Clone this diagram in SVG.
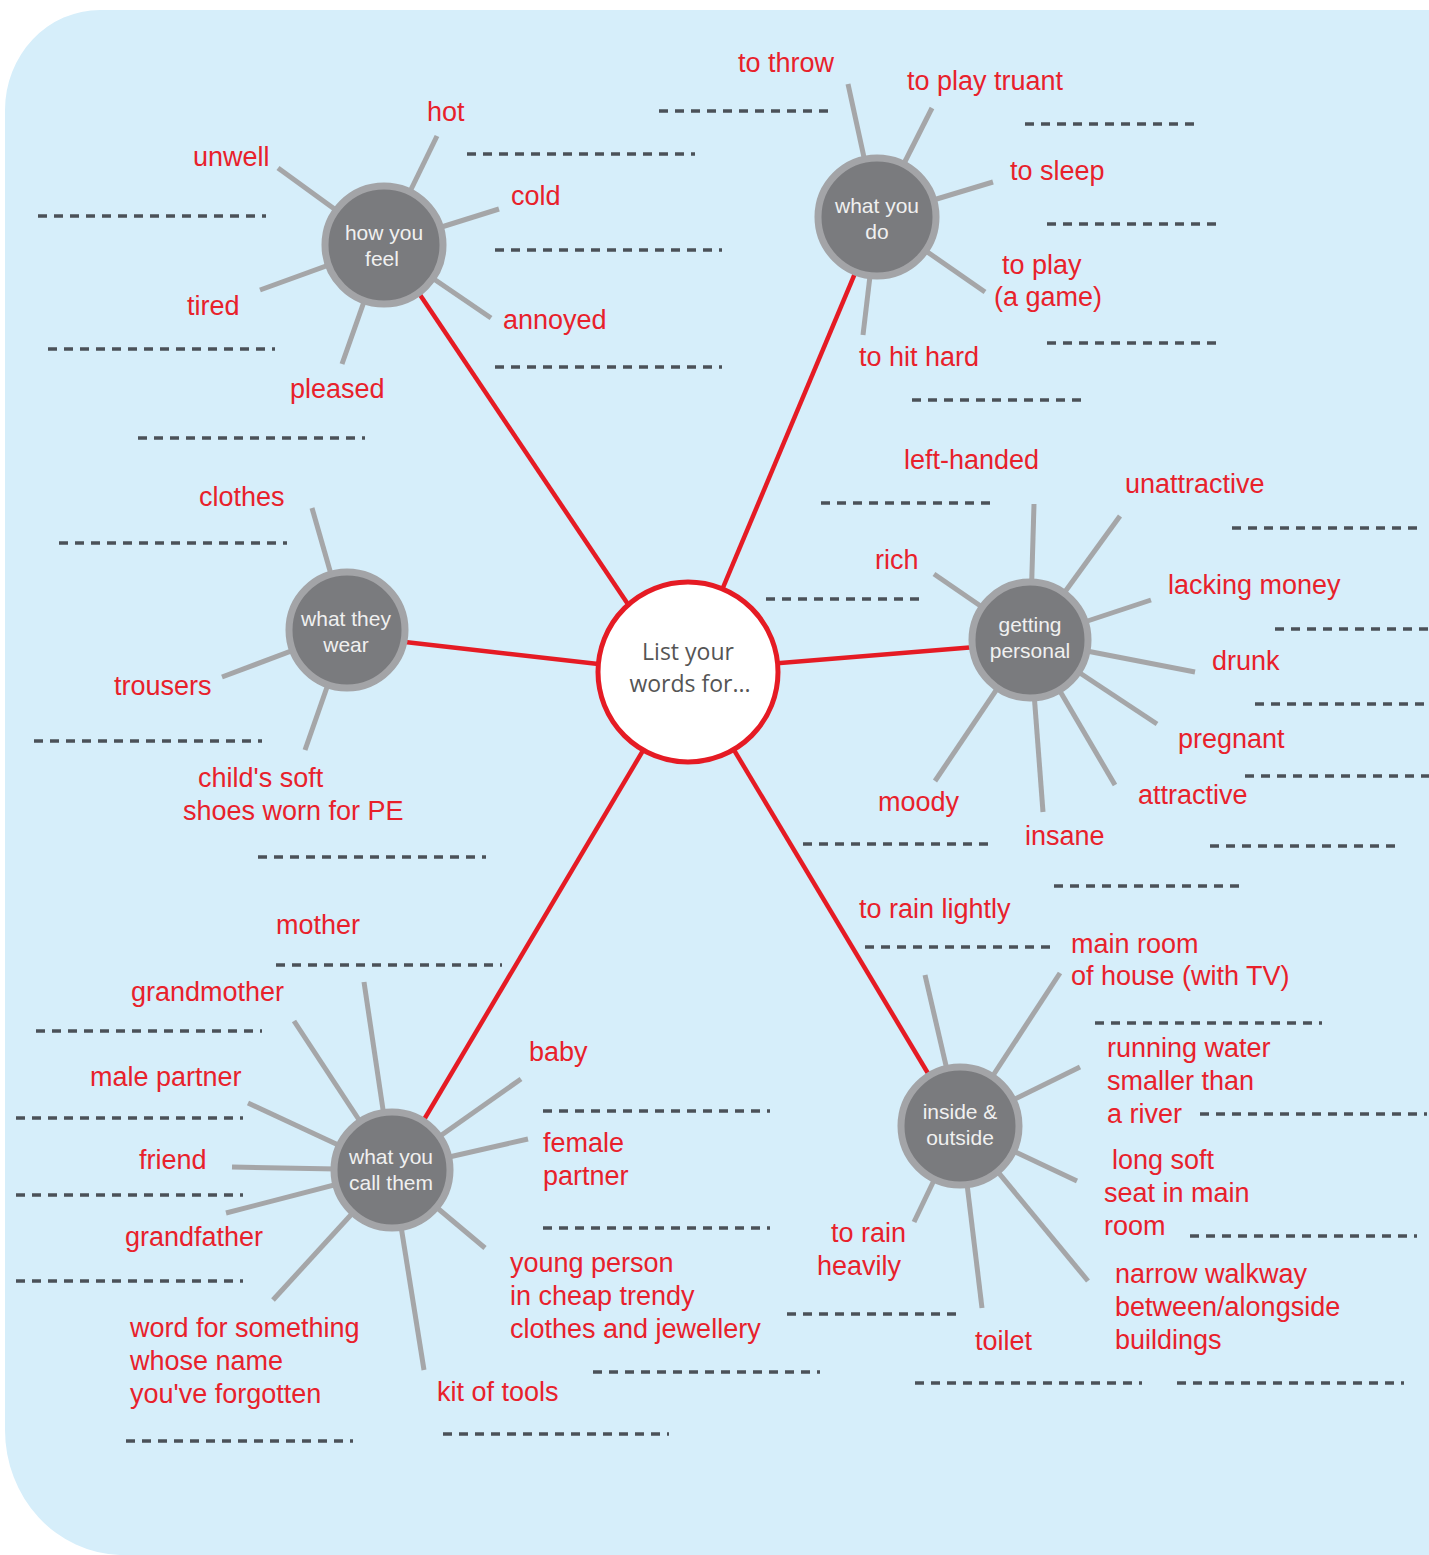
<svg xmlns="http://www.w3.org/2000/svg" width="1429" height="1555" viewBox="0 0 1429 1555">
<style>
.lbl{font-family:"Liberation Sans",Arial,sans-serif;font-size:27px;fill:#e8212b}
.hubt{font-family:"Liberation Sans",Arial,sans-serif;font-size:21px;fill:#f0f0f0;text-anchor:middle}
.ctr{font-family:"Open Sans","Liberation Sans",sans-serif;font-size:23px;fill:#555555;text-anchor:middle}
.hub{fill:#7a7b7e;stroke:#a3a4a7;stroke-width:7}
.spoke{stroke:#a5a6a8;stroke-width:5;stroke-linecap:butt}
.red{stroke:#e51b24;stroke-width:4.5;fill:none}
.dash{stroke:#4b5158;stroke-width:3.5;stroke-dasharray:9 7;fill:none}
</style>
<path id="background" d="M100 10 H1429 V1555 H120 A118 125 0 0 1 5 1430 V110 A95 100 0 0 1 100 10 Z" fill="#d6eefa"/>
<g id="connectors">
<line class="red" x1="650" y1="637" x2="400" y2="265"/>
<line class="red" x1="701" y1="640" x2="869" y2="240"/>
<line class="red" x1="660" y1="671" x2="370" y2="638"/>
<line class="red" x1="720" y1="668" x2="1000" y2="645"/>
<line class="red" x1="673" y1="700" x2="406" y2="1150"/>
<line class="red" x1="704" y1="700" x2="950" y2="1110"/>
<g id="spokes-feel">
<line class="spoke" x1="384" y1="245" x2="437" y2="136"/>
<line class="spoke" x1="384" y1="245" x2="278" y2="168"/>
<line class="spoke" x1="384" y1="245" x2="499" y2="209"/>
<line class="spoke" x1="384" y1="245" x2="260" y2="290"/>
<line class="spoke" x1="384" y1="245" x2="342" y2="364"/>
<line class="spoke" x1="384" y1="245" x2="491" y2="318"/>
</g>
<g id="spokes-do">
<line class="spoke" x1="877" y1="217" x2="848" y2="84"/>
<line class="spoke" x1="877" y1="217" x2="932" y2="108"/>
<line class="spoke" x1="877" y1="217" x2="993" y2="182"/>
<line class="spoke" x1="877" y1="217" x2="985" y2="292"/>
<line class="spoke" x1="877" y1="217" x2="863" y2="335"/>
</g>
<g id="spokes-wear">
<line class="spoke" x1="347" y1="630" x2="312" y2="508"/>
<line class="spoke" x1="347" y1="630" x2="222" y2="677"/>
<line class="spoke" x1="347" y1="630" x2="305" y2="750"/>
</g>
<g id="spokes-personal">
<line class="spoke" x1="1030" y1="640" x2="1034" y2="504"/>
<line class="spoke" x1="1030" y1="640" x2="1120" y2="516"/>
<line class="spoke" x1="1030" y1="640" x2="934" y2="574"/>
<line class="spoke" x1="1030" y1="640" x2="1151" y2="600"/>
<line class="spoke" x1="1030" y1="640" x2="1195" y2="672"/>
<line class="spoke" x1="1030" y1="640" x2="1157" y2="724"/>
<line class="spoke" x1="1030" y1="640" x2="1115" y2="785"/>
<line class="spoke" x1="1030" y1="640" x2="1043" y2="812"/>
<line class="spoke" x1="1030" y1="640" x2="935" y2="781"/>
</g>
<g id="spokes-call">
<line class="spoke" x1="392" y1="1170" x2="364" y2="982"/>
<line class="spoke" x1="392" y1="1170" x2="294" y2="1021"/>
<line class="spoke" x1="392" y1="1170" x2="248" y2="1103"/>
<line class="spoke" x1="392" y1="1170" x2="232" y2="1167"/>
<line class="spoke" x1="392" y1="1170" x2="226" y2="1213"/>
<line class="spoke" x1="392" y1="1170" x2="273" y2="1300"/>
<line class="spoke" x1="392" y1="1170" x2="424" y2="1370"/>
<line class="spoke" x1="392" y1="1170" x2="485" y2="1248"/>
<line class="spoke" x1="392" y1="1170" x2="528" y2="1139"/>
<line class="spoke" x1="392" y1="1170" x2="521" y2="1079"/>
</g>
<g id="spokes-inside">
<line class="spoke" x1="960" y1="1126" x2="925" y2="975"/>
<line class="spoke" x1="960" y1="1126" x2="1060" y2="973"/>
<line class="spoke" x1="960" y1="1126" x2="1080" y2="1067"/>
<line class="spoke" x1="960" y1="1126" x2="1077" y2="1181"/>
<line class="spoke" x1="960" y1="1126" x2="1088" y2="1281"/>
<line class="spoke" x1="960" y1="1126" x2="982" y2="1308"/>
<line class="spoke" x1="960" y1="1126" x2="914" y2="1222"/>
</g>
</g>
<g id="center">
<circle cx="688" cy="672" r="90" fill="#ffffff" stroke="#e51b24" stroke-width="5"/>
<text class="ctr" x="688" y="660">List your</text>
<text class="ctr" x="690" y="692">words for...</text>
</g>
<g id="hub-feel"><circle class="hub" cx="384" cy="245" r="59"/><text class="hubt" x="384" y="240">how you</text><text class="hubt" x="382" y="266">feel</text></g>
<g id="hub-do"><circle class="hub" cx="877" cy="217" r="59"/><text class="hubt" x="877" y="213">what you</text><text class="hubt" x="877" y="239">do</text></g>
<g id="hub-wear"><circle class="hub" cx="347" cy="630" r="58"/><text class="hubt" x="346" y="626">what they</text><text class="hubt" x="346" y="652">wear</text></g>
<g id="hub-personal"><circle class="hub" cx="1030" cy="640" r="58"/><text class="hubt" x="1030" y="632">getting</text><text class="hubt" x="1030" y="658">personal</text></g>
<g id="hub-call"><circle class="hub" cx="392" cy="1170" r="58"/><text class="hubt" x="391" y="1164">what you</text><text class="hubt" x="391" y="1190">call them</text></g>
<g id="hub-inside"><circle class="hub" cx="960" cy="1126" r="59"/><text class="hubt" x="960" y="1119">inside &amp;</text><text class="hubt" x="960" y="1145">outside</text></g>
<g id="labels">
<text class="lbl" x="427" y="121">hot</text>
<text class="lbl" x="193" y="166">unwell</text>
<text class="lbl" x="511" y="205">cold</text>
<text class="lbl" x="187" y="315">tired</text>
<text class="lbl" x="503" y="329">annoyed</text>
<text class="lbl" x="290" y="398">pleased</text>
<text class="lbl" x="738" y="72">to throw</text>
<text class="lbl" x="907" y="90">to play truant</text>
<text class="lbl" x="1010" y="180">to sleep</text>
<text class="lbl" x="1002" y="274">to play</text>
<text class="lbl" x="994" y="306">(a game)</text>
<text class="lbl" x="859" y="366">to hit hard</text>
<text class="lbl" x="199" y="506">clothes</text>
<text class="lbl" x="114" y="695">trousers</text>
<text class="lbl" x="198" y="787">child's soft</text>
<text class="lbl" x="183" y="820">shoes worn for PE</text>
<text class="lbl" x="904" y="469">left-handed</text>
<text class="lbl" x="1125" y="493">unattractive</text>
<text class="lbl" x="875" y="569">rich</text>
<text class="lbl" x="1168" y="594">lacking money</text>
<text class="lbl" x="1212" y="670">drunk</text>
<text class="lbl" x="1178" y="748">pregnant</text>
<text class="lbl" x="1138" y="804">attractive</text>
<text class="lbl" x="1025" y="845">insane</text>
<text class="lbl" x="878" y="811">moody</text>
<text class="lbl" x="276" y="934">mother</text>
<text class="lbl" x="131" y="1001">grandmother</text>
<text class="lbl" x="90" y="1086">male partner</text>
<text class="lbl" x="139" y="1169">friend</text>
<text class="lbl" x="125" y="1246">grandfather</text>
<text class="lbl" x="130" y="1337">word for something</text>
<text class="lbl" x="130" y="1370">whose name</text>
<text class="lbl" x="130" y="1403">you've forgotten</text>
<text class="lbl" x="437" y="1401">kit of tools</text>
<text class="lbl" x="529" y="1061">baby</text>
<text class="lbl" x="543" y="1152">female</text>
<text class="lbl" x="543" y="1185">partner</text>
<text class="lbl" x="510" y="1272">young person</text>
<text class="lbl" x="510" y="1305">in cheap trendy</text>
<text class="lbl" x="510" y="1338">clothes and jewellery</text>
<text class="lbl" x="859" y="918">to rain lightly</text>
<text class="lbl" x="1071" y="953">main room</text>
<text class="lbl" x="1071" y="985">of house (with TV)</text>
<text class="lbl" x="1107" y="1057">running water</text>
<text class="lbl" x="1107" y="1090">smaller than</text>
<text class="lbl" x="1107" y="1123">a river</text>
<text class="lbl" x="1112" y="1169">long soft</text>
<text class="lbl" x="1104" y="1202">seat in main</text>
<text class="lbl" x="1104" y="1235">room</text>
<text class="lbl" x="1115" y="1283">narrow walkway</text>
<text class="lbl" x="1115" y="1316">between/alongside</text>
<text class="lbl" x="1115" y="1349">buildings</text>
<text class="lbl" x="975" y="1350">toilet</text>
<text class="lbl" x="831" y="1242">to rain</text>
<text class="lbl" x="817" y="1275">heavily</text>
</g>
<g id="answer-lines">
<line class="dash" x1="467" y1="154" x2="695" y2="154"/>
<line class="dash" x1="38" y1="216" x2="266" y2="216"/>
<line class="dash" x1="495" y1="250" x2="722" y2="250"/>
<line class="dash" x1="48" y1="349" x2="275" y2="349"/>
<line class="dash" x1="495" y1="367" x2="722" y2="367"/>
<line class="dash" x1="138" y1="438" x2="365" y2="438"/>
<line class="dash" x1="659" y1="111" x2="828" y2="111"/>
<line class="dash" x1="1025" y1="124" x2="1194" y2="124"/>
<line class="dash" x1="1047" y1="224" x2="1216" y2="224"/>
<line class="dash" x1="1047" y1="343" x2="1216" y2="343"/>
<line class="dash" x1="912" y1="400" x2="1081" y2="400"/>
<line class="dash" x1="59" y1="543" x2="287" y2="543"/>
<line class="dash" x1="34" y1="741" x2="262" y2="741"/>
<line class="dash" x1="258" y1="857" x2="486" y2="857"/>
<line class="dash" x1="821" y1="503" x2="990" y2="503"/>
<line class="dash" x1="766" y1="599" x2="920" y2="599"/>
<line class="dash" x1="1232" y1="528" x2="1418" y2="528"/>
<line class="dash" x1="1275" y1="629" x2="1429" y2="629"/>
<line class="dash" x1="1255" y1="704" x2="1429" y2="704"/>
<line class="dash" x1="1245" y1="776" x2="1429" y2="776"/>
<line class="dash" x1="803" y1="844" x2="990" y2="844"/>
<line class="dash" x1="1210" y1="846" x2="1396" y2="846"/>
<line class="dash" x1="1054" y1="886" x2="1241" y2="886"/>
<line class="dash" x1="276" y1="965" x2="502" y2="965"/>
<line class="dash" x1="36" y1="1031" x2="262" y2="1031"/>
<line class="dash" x1="16" y1="1118" x2="243" y2="1118"/>
<line class="dash" x1="16" y1="1195" x2="243" y2="1195"/>
<line class="dash" x1="16" y1="1281" x2="243" y2="1281"/>
<line class="dash" x1="126" y1="1441" x2="353" y2="1441"/>
<line class="dash" x1="543" y1="1111" x2="770" y2="1111"/>
<line class="dash" x1="543" y1="1228" x2="770" y2="1228"/>
<line class="dash" x1="593" y1="1372" x2="820" y2="1372"/>
<line class="dash" x1="443" y1="1434" x2="669" y2="1434"/>
<line class="dash" x1="865" y1="947" x2="1050" y2="947"/>
<line class="dash" x1="1095" y1="1023" x2="1322" y2="1023"/>
<line class="dash" x1="1200" y1="1114" x2="1427" y2="1114"/>
<line class="dash" x1="1190" y1="1236" x2="1417" y2="1236"/>
<line class="dash" x1="787" y1="1314" x2="957" y2="1314"/>
<line class="dash" x1="915" y1="1383" x2="1142" y2="1383"/>
<line class="dash" x1="1177" y1="1383" x2="1404" y2="1383"/>
</g>
</svg>
